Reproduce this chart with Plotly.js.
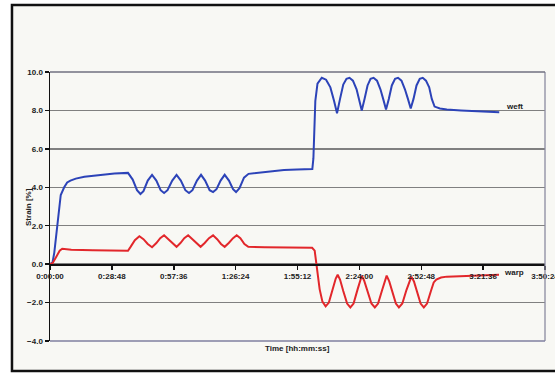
<!DOCTYPE html>
<html>
<head>
<meta charset="utf-8">
<script src="https://cdn.plot.ly/plotly-3.0.1.min.js"></script>
<style>
  html, body { margin: 0; padding: 0; background: #ffffff; }
  #chart { width: 555px; height: 373px; }
</style>
</head>
<body>
<div id="chart"></div>
<script>
// Time in minutes
const weftTime = [0, 1.2, 2.0, 3.0, 4.0, 5.0, 6.6, 8.0, 9.5, 12, 16, 20, 25, 30, 36.3,
  38.5, 40.5, 42.1, 43.5, 45.5, 47.5, 49.5, 51.5, 53.1, 54.7, 56.9, 58.9, 60.9, 63.0, 64.7,
  66.3, 68.4, 70.3, 72.2, 74.3, 75.9, 77.5, 79.4, 81.3, 83.3, 85.2, 86.6, 88.2, 90.3, 92.4,
  96, 100.6, 108.9, 115, 122.1, 122.6, 123.5, 124.5, 126.5, 128.5, 130.5, 132.2, 133.6,
  135.0, 136.5, 138.0, 139.4, 141.0, 142.7, 144.0, 145.1, 146.4, 147.8, 149.2, 150.6, 152.2,
  153.8, 155.2, 156.4, 157.7, 159.1, 160.6, 162.0, 163.6, 165.2, 166.6, 167.9, 169.2, 170.6,
  172.1, 173.5, 175.0, 176.5, 177.7, 179.0, 181.5, 184.7, 191.3, 197.9, 203, 209.1];
const weftStrain = [0, 0.1, 0.6, 1.6, 2.8, 3.6, 4.0, 4.25, 4.35, 4.45, 4.55, 4.6, 4.68, 4.72, 4.75,
  4.4, 3.85, 3.65, 3.8, 4.35, 4.65, 4.35, 3.85, 3.7, 3.85, 4.35, 4.65, 4.35, 3.85, 3.7,
  3.85, 4.35, 4.65, 4.35, 3.85, 3.75, 3.9, 4.35, 4.65, 4.35, 3.9, 3.75, 3.95, 4.5, 4.7,
  4.75, 4.8, 4.9, 4.92, 4.95, 5.5, 8.5, 9.4, 9.7, 9.6, 9.2, 8.5, 7.85,
  8.6, 9.35, 9.65, 9.7, 9.55, 9.1, 8.5, 8.0, 8.6, 9.3, 9.65, 9.7, 9.55,
  9.1, 8.55, 8.05, 8.6, 9.3, 9.65, 9.7, 9.55, 9.1, 8.6, 8.1, 8.6, 9.3,
  9.65, 9.7, 9.55, 9.2, 8.6, 8.2, 8.1, 8.05, 8.0, 7.95, 7.92, 7.9];

const warpTime = [0, 1.2, 3, 4.5, 5.7, 9.9, 20, 30, 36.3,
  37.5, 39.5, 41.6, 43.5, 45.5, 47.5, 49.5, 51.3, 53.1, 55.0, 57.0, 58.9, 60.7, 62.5, 64.3,
  66.2, 68.2, 70.1, 72.0, 74.0, 75.9, 77.8, 79.6, 81.3, 83.2, 85.2, 86.9, 88.6, 90.5, 92.3,
  100, 110, 122, 123.2, 124.2, 125.5, 126.8, 128.3, 129.8, 131.5, 133.0, 133.9, 135.0, 136.5,
  138.3, 139.8, 141.3, 143.2, 144.4, 145.1, 146.2, 147.8, 149.6, 151.2, 152.7, 154.6, 155.9,
  156.7, 157.9, 159.4, 161.0, 162.4, 164.0, 165.9, 167.3, 168.2, 169.4, 171.0, 172.5, 174.0,
  175.5, 177.3, 178.6, 179.8, 182, 184.7, 190, 196.2, 205.3, 209];
const warpStrain = [0, 0.05, 0.4, 0.7, 0.8, 0.75, 0.72, 0.7, 0.7,
  0.9, 1.25, 1.45, 1.3, 1.05, 0.88, 1.1, 1.35, 1.5, 1.3, 1.05, 0.9, 1.1, 1.35, 1.5,
  1.3, 1.05, 0.9, 1.1, 1.35, 1.5, 1.3, 1.05, 0.9, 1.1, 1.35, 1.5, 1.35, 1.05, 0.9,
  0.88, 0.86, 0.85, 0.7, -0.3, -1.3, -1.95, -2.2, -2.0, -1.3, -0.75, -0.55, -0.8, -1.4,
  -2.05, -2.25, -2.05, -1.3, -0.8, -0.6, -0.85, -1.45, -2.05, -2.25, -2.05, -1.35, -0.85,
  -0.6, -0.9, -1.45, -2.05, -2.25, -2.05, -1.35, -0.85, -0.65, -0.9, -1.45, -2.05, -2.25,
  -2.05, -1.4, -0.95, -0.8, -0.7, -0.65, -0.62, -0.6, -0.56, -0.55];

const xTickVals = [0, 28.8, 57.6, 86.4, 115.2, 144, 172.8, 201.6, 230.4];
const xTickText = ["0:00:00", "0:28:48", "0:57:36", "1:26:24", "1:55:12", "2:24:00", "2:52:48", "3:21:36", "3:50:24"];
const yTickVals = [-4, -2, 0, 2, 4, 6, 8, 10];
const seriesNames = ["weft", "warp"];

const tickFont = {family: "Liberation Sans, Arial, sans-serif", size: 8, color: "#222", weight: "bold"};

const traces = [
  {x: weftTime, y: weftStrain, name: seriesNames[0], type: "scatter", mode: "lines",
   line: {color: "#2c43b8", width: 2}},
  {x: warpTime, y: warpStrain, name: seriesNames[1], type: "scatter", mode: "lines",
   line: {color: "#e2272b", width: 2}}
];

const layout = {
  width: 555, height: 373,
  margin: {l: 50, r: 10, t: 72, b: 32},
  paper_bgcolor: "#ffffff",
  plot_bgcolor: "rgba(0,0,0,0)",
  showlegend: false,
  xaxis: {
    range: [0, 230.4], tickvals: xTickVals, ticktext: xTickText,
    anchor: "free", position: 4 / 14,
    showline: true, linecolor: "#111", linewidth: 1.5,
    ticks: "outside", ticklen: 4, tickcolor: "#111", tickwidth: 1.5,
    showgrid: false, zeroline: false, tickfont: tickFont,
    ticklabeloverflow: "allow"
  },
  yaxis: {
    range: [-4, 10], tickvals: yTickVals, tickformat: ".1f",
    showline: true, linecolor: "#111", linewidth: 1.5,
    ticks: "outside", ticklen: 4, tickcolor: "#111", tickwidth: 1.5,
    showgrid: true, gridcolor: "#808080", gridwidth: 1.3,
    zeroline: false, tickfont: tickFont
  },
  shapes: [
    {type: "rect", xref: "paper", yref: "paper", x0: -0.0768, x1: 1.1, y0: -0.1115, y1: 1.249,
     line: {color: "#111", width: 2.5}, fillcolor: "#f8f8f4", layer: "below"},
    {type: "line", xref: "paper", yref: "paper", x0: 1, x1: 1, y0: 0, y1: 1,
     line: {color: "#8a8aa0", width: 1.3}},
    {type: "line", xref: "paper", yref: "paper", x0: 0, x1: 1, y0: 1, y1: 1,
     line: {color: "#707080", width: 1.5}},
    {type: "line", xref: "paper", yref: "paper", x0: 0, x1: 1, y0: 0, y1: 0,
     line: {color: "#8080a0", width: 1.5}}
  ],
  annotations: [
    {text: "weft", x: 216, y: 8.19, xref: "x", yref: "y", showarrow: false,
     font: tickFont},
    {text: "warp", x: 216, y: -0.43, xref: "x", yref: "y", showarrow: false,
     font: tickFont},
    {text: "Time [hh:mm:ss]", xref: "paper", yref: "paper", x: 0.5, y: -0.052,
     showarrow: false, font: tickFont},
    {text: "Strain [%]", xref: "paper", yref: "paper", x: -0.0566, y: 0.5, textangle: -90,
     showarrow: false, font: tickFont}
  ]
};

Plotly.newPlot("chart", traces, layout, {staticPlot: true, displayModeBar: false});
</script>
</body>
</html>
